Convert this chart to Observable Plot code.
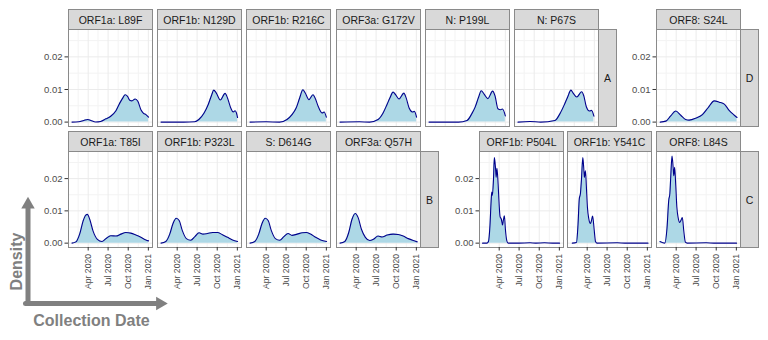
<!DOCTYPE html>
<html><head><meta charset="utf-8">
<script src="https://cdn.jsdelivr.net/npm/d3@7"></script>
<script src="https://cdn.jsdelivr.net/npm/@observablehq/plot@0.6"></script>
<style>
body{margin:0;background:#fff;font-family:"Liberation Sans",Arial,Helvetica,sans-serif;}
#fig{position:relative;width:768px;height:340px;overflow:hidden;background:#fff;}
#fig svg{position:absolute;display:block;}
#fig svg text{white-space:pre;}
.strip{position:absolute;box-sizing:border-box;background:#D9D9D9;border:1px solid #8a8a8a;color:#1a1a1a;font-size:10.5px;display:flex;align-items:center;justify-content:center;white-space:nowrap;}
</style></head><body><div id="fig"></div>
<script>
// ---- categories ----
const groupA = ["ORF1a: L89F","ORF1b: N129D","ORF1b: R216C","ORF3a: G172V","N: P199L","N: P67S"];
const groupD = ["ORF8: S24L"];
const groupB = ["ORF1a: T85I","ORF1b: P323L","S: D614G","ORF3a: Q57H"];
const groupC = ["ORF1b: P504L","ORF1b: Y541C","ORF8: L84S"];
const groupLabels = ["A","D","B","C"];
const axisTitles = ["Density","Collection Date"];

// ---- tick labels / breaks ----
const xTicks = ["2020-04-01","2020-07-01","2020-10-01","2021-01-01"];
const xMinor = ["2020-02-15","2020-05-16","2020-08-16","2020-11-16"];
const yTicks = [0, 0.01, 0.02];
const yMinor = [0.005, 0.015, 0.025];

// ---- density series [date, density] ----
const L89F = [["2020-01-18",0],["2020-02-18",0.0001],["2020-03-12",0.0005],["2020-03-30",0.0008],["2020-04-13",0.0005],["2020-05-05",0.00005],["2020-05-28",0.0002],["2020-06-21",0.0010],["2020-07-13",0.0018],["2020-08-06",0.0035],["2020-08-24",0.0059],["2020-09-08",0.0076],["2020-09-17",0.0084],["2020-09-28",0.0079],["2020-10-08",0.0067],["2020-10-18",0.0065],["2020-11-02",0.0071],["2020-11-14",0.0064],["2020-11-28",0.0038],["2020-12-10",0.0027],["2020-12-21",0.0023],["2021-01-02",0.0015]];
const N129D = [["2020-01-18",0],["2020-03-01",0],["2020-05-01",0],["2020-06-20",0.0001],["2020-07-09",0.0008],["2020-08-02",0.0028],["2020-08-21",0.0054],["2020-09-06",0.0084],["2020-09-15",0.0098],["2020-09-27",0.0089],["2020-10-15",0.0068],["2020-11-06",0.0088],["2020-11-17",0.0074],["2020-12-02",0.0043],["2020-12-13",0.0031],["2020-12-22",0.0035],["2020-12-28",0.0028],["2021-01-02",0.0014]];
const R216C = [["2020-01-18",0],["2020-04-01",0.0001],["2020-06-01",0],["2020-07-05",0.0008],["2020-07-28",0.0023],["2020-08-16",0.0043],["2020-09-01",0.0074],["2020-09-16",0.0099],["2020-09-26",0.0090],["2020-10-13",0.0069],["2020-11-01",0.0084],["2020-11-10",0.0075],["2020-11-25",0.0048],["2020-12-13",0.0028],["2020-12-22",0.0031],["2021-01-01",0.0015]];
const G172V = [["2020-01-18",0],["2020-04-16",0.0001],["2020-06-01",0],["2020-07-10",0.0008],["2020-08-02",0.0028],["2020-08-20",0.0054],["2020-09-02",0.0074],["2020-09-17",0.0092],["2020-09-28",0.0084],["2020-10-14",0.0071],["2020-11-05",0.0089],["2020-11-15",0.0075],["2020-11-29",0.0043],["2020-12-14",0.0031],["2020-12-23",0.0033],["2021-01-02",0.0015]];
const P199L = [["2020-01-18",0],["2020-06-01",0],["2020-07-10",0.0005],["2020-08-01",0.0026],["2020-08-16",0.0046],["2020-09-01",0.0077],["2020-09-13",0.0096],["2020-09-26",0.0086],["2020-10-13",0.0072],["2020-11-04",0.0095],["2020-11-15",0.0080],["2020-11-28",0.0041],["2020-12-10",0.0038],["2020-12-19",0.0040],["2021-01-01",0.0019]];
const P67S = [["2020-01-18",0],["2020-03-13",0.0002],["2020-05-01",0],["2020-07-05",0.0005],["2020-07-28",0.0026],["2020-08-16",0.0052],["2020-09-01",0.0077],["2020-09-16",0.0098],["2020-09-27",0.0088],["2020-10-13",0.0077],["2020-11-04",0.0093],["2020-11-14",0.0080],["2020-11-25",0.0048],["2020-12-10",0.0034],["2020-12-19",0.0036],["2020-12-30",0.0018]];
const S24L = [["2020-01-19",0],["2020-02-14",0.0003],["2020-03-07",0.0019],["2020-03-30",0.0034],["2020-04-22",0.0021],["2020-05-14",0.0008],["2020-05-30",0.0006],["2020-06-30",0.0012],["2020-07-30",0.0023],["2020-08-25",0.0044],["2020-09-22",0.0065],["2020-10-15",0.0061],["2020-11-07",0.0055],["2020-11-29",0.0036],["2020-12-23",0.0021],["2021-01-04",0.0014]];
const T85I = [["2020-01-18",0],["2020-02-05",0.0004],["2020-02-22",0.0028],["2020-03-09",0.0069],["2020-03-21",0.0087],["2020-03-28",0.0089],["2020-04-08",0.0074],["2020-04-23",0.0038],["2020-05-13",0.0012],["2020-06-03",0.0005],["2020-06-21",0.0014],["2020-07-13",0.0023],["2020-08-06",0.0022],["2020-08-29",0.0028],["2020-09-20",0.0033],["2020-10-13",0.0031],["2020-11-05",0.0025],["2020-11-28",0.0018],["2020-12-21",0.0010],["2021-01-02",0.0007]];
const P323L = [["2020-01-18",0],["2020-02-09",0.0005],["2020-02-27",0.0028],["2020-03-13",0.0061],["2020-03-28",0.0077],["2020-04-10",0.0070],["2020-04-25",0.0038],["2020-05-13",0.0014],["2020-06-02",0.0009],["2020-06-22",0.0021],["2020-07-10",0.0032],["2020-07-28",0.0028],["2020-08-18",0.0030],["2020-09-10",0.0033],["2020-10-02",0.0033],["2020-10-25",0.0026],["2020-11-17",0.0018],["2020-12-10",0.0010],["2021-01-02",0.0005]];
const D614G = [["2020-01-18",0],["2020-02-09",0.0005],["2020-02-27",0.0028],["2020-03-13",0.0061],["2020-03-28",0.0077],["2020-04-10",0.0070],["2020-04-25",0.0038],["2020-05-13",0.0014],["2020-06-02",0.0009],["2020-06-21",0.0020],["2020-07-10",0.0030],["2020-07-28",0.0024],["2020-08-21",0.0028],["2020-09-13",0.0032],["2020-10-01",0.0033],["2020-10-21",0.0028],["2020-11-13",0.0018],["2020-12-06",0.0010],["2021-01-02",0.0005]];
const Q57H = [["2020-01-18",0],["2020-02-09",0.0005],["2020-02-27",0.0033],["2020-03-13",0.0074],["2020-03-28",0.0092],["2020-04-10",0.0079],["2020-04-25",0.0043],["2020-05-13",0.0018],["2020-06-02",0.0008],["2020-06-21",0.0013],["2020-07-10",0.0022],["2020-07-28",0.0019],["2020-08-21",0.0025],["2020-09-17",0.0028],["2020-10-10",0.0027],["2020-11-02",0.0022],["2020-11-25",0.0014],["2020-12-18",0.0008],["2021-01-05",0.0004]];
const P504L = [["2020-01-16",0],["2020-02-05",0],["2020-02-12",0.0005],["2020-02-19",0.0056],["2020-02-24",0.0128],["2020-02-27",0.0158],["2020-03-01",0.0148],["2020-03-06",0.0199],["2020-03-10",0.0265],["2020-03-15",0.0235],["2020-03-18",0.0204],["2020-03-22",0.0232],["2020-03-27",0.0184],["2020-04-01",0.0117],["2020-04-05",0.0082],["2020-04-11",0.0074],["2020-04-16",0.0056],["2020-04-20",0.0071],["2020-04-25",0.0085],["2020-04-29",0.0046],["2020-05-06",0.0007],["2020-05-12",0],["2020-07-01",0],["2020-08-20",0.0001],["2020-09-15",0],["2020-10-25",0.0001],["2020-12-01",0],["2021-01-02",0]];
const Y541C = [["2020-01-24",0],["2020-02-12",0.0002],["2020-02-19",0.0056],["2020-02-25",0.0138],["2020-03-01",0.0153],["2020-03-06",0.0199],["2020-03-12",0.0265],["2020-03-16",0.0235],["2020-03-19",0.0204],["2020-03-24",0.0224],["2020-03-28",0.0179],["2020-04-02",0.0112],["2020-04-08",0.0077],["2020-04-16",0.0061],["2020-04-20",0.0068],["2020-04-26",0.0084],["2020-05-03",0.0041],["2020-05-09",0.0005],["2020-05-16",0],["2020-08-16",0.0001],["2020-09-20",0],["2021-01-04",0]];
const L84S = [["2020-01-18",0.0005],["2020-02-09",0],["2020-02-19",0.0046],["2020-02-27",0.0133],["2020-03-03",0.0153],["2020-03-07",0.0204],["2020-03-13",0.0270],["2020-03-18",0.0235],["2020-03-21",0.0209],["2020-03-25",0.0235],["2020-03-30",0.0179],["2020-04-04",0.0112],["2020-04-10",0.0079],["2020-04-17",0.0064],["2020-04-23",0.0071],["2020-04-29",0.0079],["2020-05-06",0.0036],["2020-05-13",0.0003],["2020-05-21",0],["2020-08-16",0.0001],["2020-09-20",0],["2021-01-02",0]];

const seriesByName = {
  "ORF1a: L89F": L89F, "ORF1b: N129D": N129D, "ORF1b: R216C": R216C, "ORF3a: G172V": G172V,
  "N: P199L": P199L, "N: P67S": P67S, "ORF8: S24L": S24L,
  "ORF1a: T85I": T85I, "ORF1b: P323L": P323L, "S: D614G": D614G, "ORF3a: Q57H": Q57H,
  "ORF1b: P504L": P504L, "ORF1b: Y541C": Y541C, "ORF8: L84S": L84S
};

// ---- layout ----
const FONT = "'Liberation Sans', Arial, Helvetica, sans-serif";
const PW = 84;
const groups = [
  {names: groupA, label: groupLabels[0], lefts: [68,157,246,336,425,514], top: 29, h: 97, xAxis: false},
  {names: groupD, label: groupLabels[1], lefts: [656], top: 29, h: 97, xAxis: false},
  {names: groupB, label: groupLabels[2], lefts: [68,157,246,336], top: 151, h: 96, xAxis: true},
  {names: groupC, label: groupLabels[3], lefts: [479,567,656], top: 151, h: 96, xAxis: true}
];
const xDomain = [new Date("2020-01-02"), new Date("2021-01-20")];
const yDomain = [-0.00135, 0.0284];

const fig = document.getElementById("fig");

function place(svg, left, top) {
  svg.querySelectorAll("style").forEach(s => s.remove());
  svg.style.left = left + "px";
  svg.style.top = top + "px";
  fig.appendChild(svg);
}
function strip(text, left, top, w, h) {
  const d = document.createElement("div");
  d.className = "strip";
  d.textContent = text;
  Object.assign(d.style, {left: left + "px", top: top + "px", width: w + "px", height: h + "px"});
  fig.appendChild(d);
}

// overlay: axis arrows and titles (pixel space)
const arrowColor = "#808080";
const overlay = Plot.plot({
  width: 170, height: 338, margin: 0,
  x: {type: "identity"}, y: {type: "identity"},
  style: {background: "transparent", fontFamily: FONT},
  marks: [
    Plot.line([[27.5, 303], [27.5, 207]], {stroke: arrowColor, strokeWidth: 5}),
    Plot.line([[25, 303], [158, 303]], {stroke: arrowColor, strokeWidth: 5}),
    Plot.dot([[27.5, 204]], {symbol: "triangle", r: 5, fill: arrowColor, stroke: "none"}),
    Plot.dot([[159.5, 303]], {symbol: "triangle", r: 5, rotate: 90, fill: arrowColor, stroke: "none"}),
    Plot.text([axisTitles[0]], {x: 16, y: 261, text: d => d, rotate: -90, fontSize: 16, fontWeight: "bold", fill: arrowColor}),
    Plot.text([axisTitles[1]], {x: 91, y: 320, text: d => d, fontSize: 16, fontWeight: "bold", fill: arrowColor})
  ]
});
place(overlay, 0, 0);

const MR = 4, MT = 4;
for (const g of groups) {
  g.names.forEach((name, i) => {
    const left = g.lefts[i];
    const yAxis = i === 0;
    const ML = yAxis ? 36 : 0;
    const mb = g.xAxis ? 62 : 4;
    const data = seriesByName[name];
    const X = d => new Date(d[0]), Y = d => d[1];
    const p = Plot.plot({
      width: ML + PW + MR, height: MT + g.h + mb,
      marginLeft: ML, marginRight: MR, marginTop: MT, marginBottom: mb,
      x: {type: "utc", domain: xDomain, axis: null},
      y: {domain: yDomain, axis: null},
      style: {background: "transparent", fontFamily: FONT},
      marks: [
        Plot.ruleX(xMinor.map(d => new Date(d)), {stroke: "#F3F3F3"}),
        Plot.ruleY(yMinor, {stroke: "#F3F3F3"}),
        Plot.ruleX(xTicks.map(d => new Date(d)), {stroke: "#EBEBEB"}),
        Plot.ruleY(yTicks, {stroke: "#EBEBEB"}),
        Plot.areaY(data, {x: X, y: Y, fill: "#ADD8E6", curve: "monotone-x"}),
        Plot.lineY(data, {x: X, y: Y, stroke: "#00008B", strokeWidth: 1.1, curve: "monotone-x"}),
        Plot.frame({stroke: "#8a8a8a"}),
        yAxis ? Plot.axisY({ticks: yTicks, tickFormat: d3.format(".2f"), tickSize: 3.5, tickPadding: 2.5,
                            fontSize: 9.5, stroke: "#333", fill: "#4d4d4d", label: null}) : null,
        g.xAxis ? Plot.axisX({ticks: xTicks.map(d => new Date(d)), tickFormat: d3.utcFormat("%b %Y"),
                              tickRotate: -90, tickSize: 3.5, tickPadding: 3, fontSize: 8.6,
                              stroke: "#333", fill: "#4d4d4d", label: null}) : null
      ]
    });
    place(p, left - ML, g.top - MT);
    strip(name, left, g.top - 20, PW + 1, 21);
  });
  const lastRight = g.lefts[g.lefts.length - 1] + PW;
  strip(g.label, lastRight, g.top, 19, g.h + 1);
}
</script></body></html>
